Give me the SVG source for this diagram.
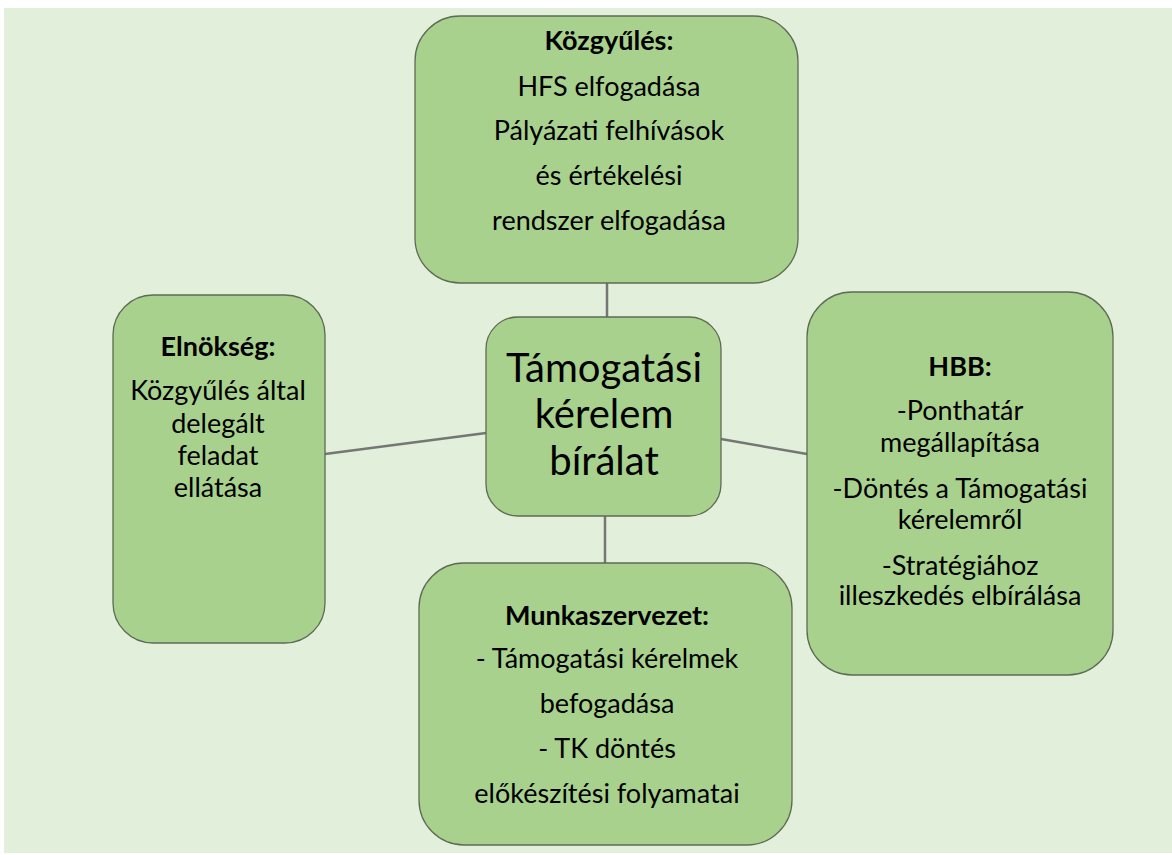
<svg xmlns="http://www.w3.org/2000/svg" width="1172" height="855" viewBox="0 0 1172 855">
<style>
.box{fill:#A9D18E;stroke:#5E6B55;stroke-width:1.3}
.t{font-family:Lato,"Open Sans","Liberation Sans",sans-serif;fill:#000;text-anchor:middle}
.n{font-size:27px}
.b{font-size:27px;font-weight:bold}
.c{font-size:40px}
.conn line{stroke:#767676;stroke-width:2.5}
</style>
<rect x="0" y="0" width="1172" height="855" fill="#FFFFFF"/>
<rect x="4" y="8" width="1168" height="845" fill="#E2EFDA"/>
<g id="connectors" class="conn">
<line x1="607" y1="283" x2="607" y2="317"/>
<line x1="325" y1="454" x2="486" y2="433"/>
<line x1="721" y1="439" x2="807" y2="454"/>
<line x1="605" y1="516" x2="605" y2="563"/>
</g>
<g id="kozgyules">
<rect class="box" x="415" y="16" width="383" height="267" rx="45" ry="45"/>
<text class="t b" x="609" y="50">Közgyűlés:</text>
<text class="t n" x="609" y="96">HFS elfogadása</text>
<text class="t n" x="609" y="140">Pályázati felhívások</text>
<text class="t n" x="609" y="185">és értékelési</text>
<text class="t n" x="609" y="230">rendszer elfogadása</text>
</g>
<g id="center">
<rect class="box" x="486" y="317" width="235" height="199" rx="32" ry="32"/>
<text class="t c" x="604" y="382">Támogatási</text>
<text class="t c" x="604" y="428">kérelem</text>
<text class="t c" x="604" y="475">bírálat</text>
</g>
<g id="elnokseg">
<rect class="box" x="113" y="295" width="212" height="348" rx="40" ry="40"/>
<text class="t b" x="218" y="356">Elnökség:</text>
<text class="t n" x="218" y="400">Közgyűlés által</text>
<text class="t n" x="218" y="433">delegált</text>
<text class="t n" x="218" y="465">feladat</text>
<text class="t n" x="218" y="497">ellátása</text>
</g>
<g id="hbb">
<rect class="box" x="807" y="292" width="306" height="383" rx="45" ry="45"/>
<text class="t b" x="960" y="376">HBB:</text>
<text class="t n" x="960" y="420">-Ponthatár</text>
<text class="t n" x="960" y="452">megállapítása</text>
<text class="t n" x="960" y="498">-Döntés a Támogatási</text>
<text class="t n" x="960" y="529">kérelemről</text>
<text class="t n" x="960" y="575">-Stratégiához</text>
<text class="t n" x="960" y="605">illeszkedés elbírálása</text>
</g>
<g id="munkaszervezet">
<rect class="box" x="419" y="563" width="373" height="282" rx="45" ry="45"/>
<text class="t b" x="607" y="625">Munkaszervezet:</text>
<text class="t n" x="607" y="668">- Támogatási kérelmek</text>
<text class="t n" x="607" y="713">befogadása</text>
<text class="t n" x="607" y="758">- TK döntés</text>
<text class="t n" x="607" y="803">előkészítési folyamatai</text>
</g>
</svg>
